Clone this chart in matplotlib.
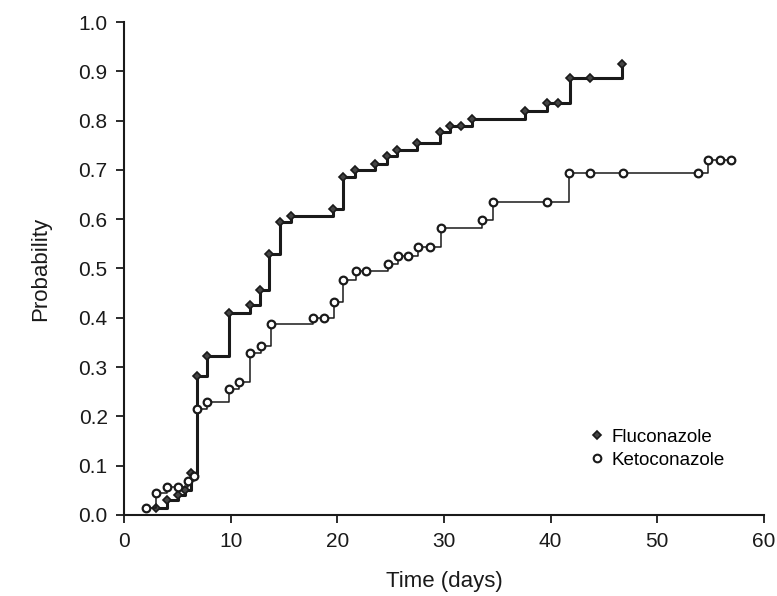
import matplotlib
matplotlib.use("Agg")
from matplotlib import pyplot as plt
from matplotlib.lines import Line2D

# Cumulative probability, per drug
fluc_days = [3.0, 4.0, 5.0, 5.7, 6.3, 6.8, 7.75, 9.8, 11.8, 12.75, 13.6,
             14.6, 15.6, 19.6, 20.55, 21.6, 23.5, 24.6, 25.6, 27.5, 29.6,
             30.6, 31.6, 32.6, 37.6, 39.7, 40.7, 41.8, 43.7, 46.7]
fluc_prob = [0.015, 0.03, 0.04, 0.05, 0.085, 0.281, 0.323, 0.41, 0.425,
             0.457, 0.53, 0.594, 0.607, 0.621, 0.685, 0.70, 0.712, 0.729,
             0.74, 0.755, 0.777, 0.79, 0.79, 0.803, 0.82, 0.835, 0.835,
             0.886, 0.886, 0.914]

keto_days = [2.0, 3.0, 4.0, 5.0, 6.0, 6.5, 6.8, 7.8, 9.8, 10.8, 11.8, 12.8,
             13.8, 17.7, 18.7, 19.7, 20.55, 21.75, 22.7, 24.7, 25.7, 26.65,
             27.6, 28.7, 29.7, 33.6, 34.6, 39.7, 41.7, 43.7, 46.8, 53.8,
             54.8, 55.9, 56.95]
keto_prob = [0.014, 0.045, 0.057, 0.057, 0.068, 0.078, 0.214, 0.229, 0.255,
             0.27, 0.329, 0.342, 0.388, 0.40, 0.40, 0.433, 0.477, 0.495,
             0.495, 0.51, 0.525, 0.525, 0.543, 0.543, 0.582, 0.599, 0.634,
             0.634, 0.693, 0.693, 0.693, 0.693, 0.72, 0.72, 0.72]

labels = ["Fluconazole", "Ketoconazole"]
x_ticks = [0, 10, 20, 30, 40, 50, 60]
y_ticks = [0.0, 0.1, 0.2, 0.3, 0.4, 0.5, 0.6, 0.7, 0.8, 0.9, 1.0]

plt.rcParams["font.family"] = ["Liberation Sans", "DejaVu Sans"]
ink = "#1a1a1a"

fig = plt.figure(figsize=(7.77, 5.96), dpi=100)
ax = fig.add_axes([0.16, 0.136, 0.823, 0.827])

ax.plot(fluc_days, fluc_prob, drawstyle="steps-post", color=ink, lw=2.2,
        marker="D", ms=4.5, mfc="#444444", mec=ink, mew=1.2)
ax.plot(keto_days, keto_prob, drawstyle="steps-post", color=ink, lw=1.1,
        marker="o", ms=5.5, mfc="white", mec=ink, mew=1.6)

ax.set_xlim(0, 60)
ax.set_ylim(0, 1.0)
ax.set_xticks(x_ticks)
ax.set_yticks(y_ticks)
ax.set_xticklabels([str(t) for t in x_ticks])
ax.set_yticklabels([f"{t:.1f}" for t in y_ticks])
ax.tick_params(direction="out", length=6, width=1.3, colors=ink,
               labelsize=15, pad=6)
for side in ("top", "right"):
    ax.spines[side].set_visible(False)
for side in ("left", "bottom"):
    ax.spines[side].set_linewidth(1.5)
    ax.spines[side].set_color(ink)

ax.set_xlabel("Time (days)", fontsize=16, color=ink, labelpad=15)
ax.set_ylabel("Probability", fontsize=16, color=ink, labelpad=20)

handles = [
    Line2D([], [], ls="none", marker="D", ms=4.5, mfc="#444444", mec=ink,
           mew=1.2),
    Line2D([], [], ls="none", marker="o", ms=5.5, mfc="white", mec=ink,
           mew=1.5),
]
ax.legend(handles, labels, loc="upper left", bbox_to_anchor=(0.715, 0.19),
          frameon=False, fontsize=13.5, handlelength=0.8, handletextpad=0.4,
          labelspacing=0.3, borderaxespad=0)

fig.savefig("out.png", dpi=100)
